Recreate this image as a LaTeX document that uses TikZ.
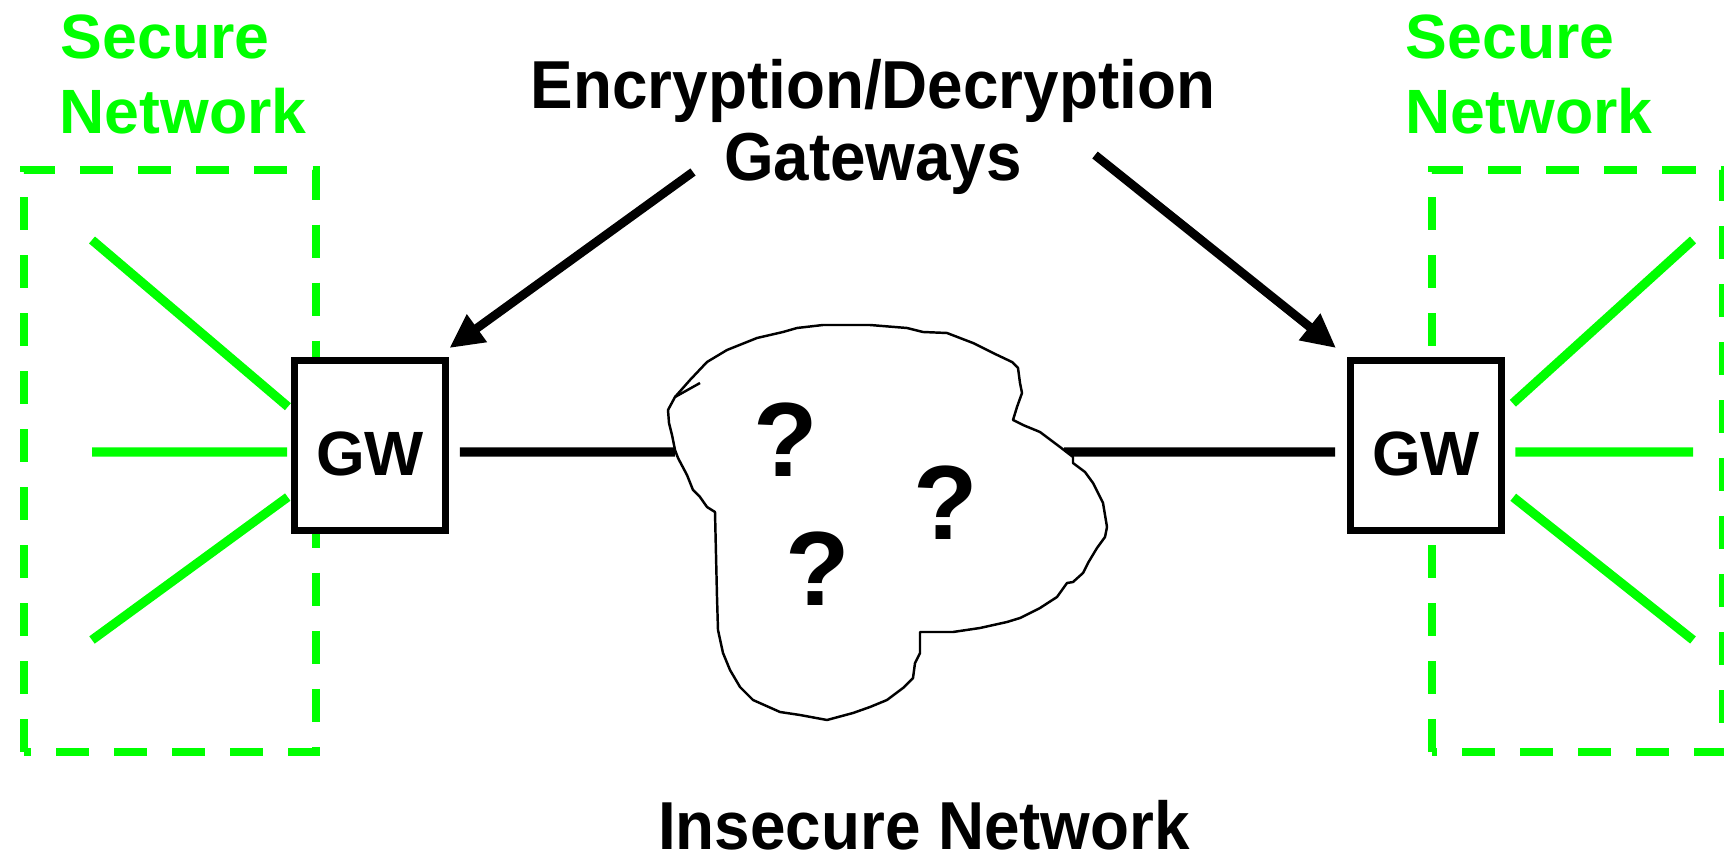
\documentclass[tikz,border=0pt]{standalone}
\usepackage{fontspec}
\setmainfont{Liberation Sans}
\newfontfamily\narrowsans{Liberation Sans}[FakeStretch=0.94]
\usetikzlibrary{arrows.meta}
\definecolor{SecureGreen}{RGB}{0, 255, 0}

\begin{document}
\begin{tikzpicture}[
        x=0.01cm, y=-0.01cm,
        every node/.style={inner sep=0, font=\fontsize{17.8}{21}\selectfont\bfseries},
        zone/.style={draw=SecureGreen, line width=2.5pt, dash pattern=on 0.33cm off 0.25cm},
        lan/.style={draw=SecureGreen, line width=2.6pt},
        gateway/.style={draw, fill=white, line width=2.2pt, minimum width=1.51cm, minimum height=1.70cm, text height=0.59cm, text depth=0pt},
        link/.style={line width=2.6pt},
        pointer/.style={line width=2.5pt, -{Triangle[length=0.34cm, width=0.32cm]}},
        title/.style={anchor=base, font=\narrowsans\fontsize{19.3}{23}\selectfont\bfseries},
        qmark/.style={anchor=base, font=\fontsize{30}{36}\selectfont\bfseries}
    ]
        \useasboundingbox (0,0) rectangle (1724,864);

        % Secure networks
        \draw[zone] (24,752) rectangle (316,170);
        \draw[zone] (1432,752) rectangle (1723,170);
        \node[anchor=base west, text=SecureGreen] (secLtop) at (60,59) {Secure};
        \node[anchor=base west, text=SecureGreen] (secLbot) at (59,134) {Network};
        \node[anchor=base west, text=SecureGreen] (secRtop) at (1405,59) {Secure};
        \node[anchor=base west, text=SecureGreen] (secRbot) at (1405,134) {Network};

        % Gateways
        \node[gateway] (gwL) at (370,445.5) {GW};
        \node[gateway] (gwR) at (1426,445.5) {GW};

        % Hosts
        \coordinate (hostLa) at (92,240);
        \coordinate (hostLb) at (92,452);
        \coordinate (hostLc) at (92,640);
        \coordinate (hostRa) at (1693,240);
        \coordinate (hostRb) at (1693,452);
        \coordinate (hostRc) at (1693,640);
        \draw[lan, shorten >=1pt] (hostLa) -- ([yshift=0.365cm]gwL.west);
        \draw[lan, shorten >=1pt] (hostLb) -- ([yshift=-0.065cm]gwL.west);
        \draw[lan, shorten >=1pt] (hostLc) -- ([yshift=-0.495cm]gwL.west);
        \draw[lan, shorten <=0.1cm] ([yshift=0.355cm]gwR.east) -- (hostRa);
        \draw[lan, shorten <=0.1cm] ([yshift=-0.065cm]gwR.east) -- (hostRb);
        \draw[lan, shorten <=0.1cm] ([yshift=-0.455cm]gwR.east) -- (hostRc);

        % Links into the cloud
        \coordinate (cloudW) at (675,452);
        \coordinate (cloudE) at (1064,452);
        \draw[link, shorten <=0.105cm] ([yshift=-0.065cm]gwL.east) -- (cloudW);
        \draw[link, shorten >=0.115cm] (cloudE) -- ([yshift=-0.065cm]gwR.west);

        % Insecure cloud
        \draw[fill=white, line width=0.7pt, line join=round]
            (668,410) -- (675,397) -- (690,380) -- (707,362) -- (727,350) -- (757,338)
            -- (770,335) -- (783,332) -- (797,328) -- (823,325) -- (870,325) -- (907,328)
            -- (923,332) -- (947,333) -- (973,343) -- (993,353) -- (1012,362) -- (1018,368)
            -- (1020,383) -- (1022,393) -- (1017,407) -- (1013,420) -- (1023,425) -- (1040,432)
            -- (1060,447) -- (1073,457) -- (1073,463) -- (1085,472) -- (1093,483) -- (1103,503)
            -- (1107,527) -- (1105,537) -- (1097,548) -- (1088,563) -- (1083,573) -- (1073,582)
            -- (1067,583) -- (1057,597) -- (1040,608) -- (1020,618) -- (1007,622) -- (980,628)
            -- (953,632) -- (920,632) -- (920,653) -- (915,663) -- (913,678) -- (903,688)
            -- (887,700) -- (870,707) -- (853,713) -- (827,720) -- (800,715) -- (780,712)
            -- (753,700) -- (740,687) -- (730,670) -- (723,653) -- (718,630) -- (717,597)
            -- (715,512) -- (707,507) -- (700,497) -- (693,490) -- (687,475) -- (678,458)
            -- (675,450) -- (672,435) -- (669,423) -- cycle;
        \draw[line width=0.7pt] (675,397) -- (700,383);
        \node[qmark] (qA) at (786,477) {?};
        \node[qmark] (qB) at (946,540) {?};
        \node[qmark] (qC) at (818,605) {?};

        % Titles
        \node[title] (gwTitleA) at (873,109) {Encryption/Decryption};
        \node[title] (gwTitleB) at (873,181) {Gateways};
        \node[title] (insecure) at (924,849) {Insecure Network};

        % Arrows
        \coordinate (ptrL) at (693,172);
        \coordinate (ptrR) at (1095,155);
        \draw[pointer] (ptrL) -- ([yshift=0.085cm]gwL.north east);
        \draw[pointer] (ptrR) -- ([shift={(-10.5,-8.5)}]gwR.north west);
    \end{tikzpicture}
\end{document}
